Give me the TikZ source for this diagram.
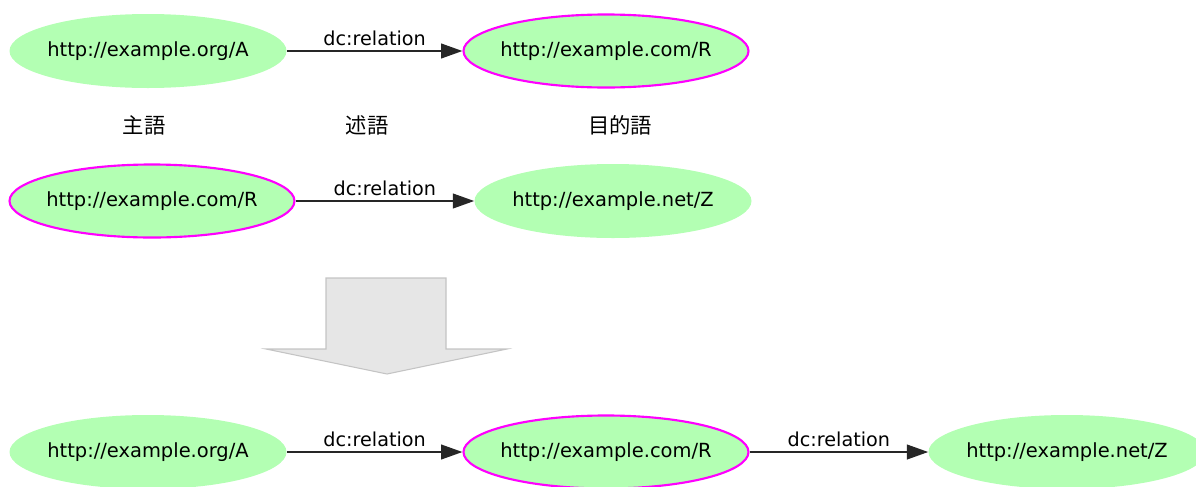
\documentclass[tikz,border=0pt]{standalone}
\usepackage{fontspec}
\setmainfont{DejaVu Sans}
\newfontfamily\cjk{Noto Sans CJK JP}
\usetikzlibrary{arrows.meta,shapes.geometric}
\definecolor{nodegreen}{HTML}{B3FFB3}
\definecolor{rmag}{HTML}{FF00FF}
\definecolor{bigfill}{HTML}{E6E6E6}
\definecolor{bigdraw}{HTML}{C4C4C4}
\tikzset{
  res/.style={ellipse, fill=nodegreen, inner xsep=-30pt, inner ysep=0pt, minimum width=207.75pt, minimum height=55.5pt, font=\fontsize{14.6pt}{16pt}\selectfont},
  resr/.style={res, draw=rmag, line width=1.6pt, minimum width=213.75pt, minimum height=54.75pt},
  rel/.style={draw=black!85, line width=1.5pt, -{Triangle[length=16pt,width=11pt]}},
  rellabel/.style={midway, above, inner sep=3pt, font=\fontsize{14.4pt}{16pt}\selectfont},
  role/.style={font=\cjk\fontsize{16pt}{18pt}\selectfont, inner sep=0pt},
}
\begin{document}
\begin{tikzpicture}[x=0.75pt, y=-0.75pt]
\useasboundingbox (0,0) rectangle (1196,486);
% row 1
\node[res]  (a1) at (148,51)  {http://example.org/A};
\node[resr] (r1) at (606,51)  {http://example.com/R};
\draw[rel] (a1) -- (r1) node[rellabel] (l1) {dc:relation};
% roles
\node[role] (subj) at (144,125) {主語};
\node[role] (pred) at (367,125) {述語};
\node[role] (obj)  at (620,125) {目的語};
% row 2
\node[resr] (r2) at (152,201) {http://example.com/R};
\node[res]  (z2) at (613,201) {http://example.net/Z};
\draw[rel] (r2) -- (z2) node[rellabel] (l2) {dc:relation};
% big arrow
\draw[fill=bigfill, draw=bigdraw, line width=0.8pt, line join=miter]
  (326,278) -- (446,278) -- (446,349) -- (507,349) -- (387,374) -- (266,349) -- (326,349) -- cycle;
% row 3
\node[res]  (a3) at (148,452)  {http://example.org/A};
\node[resr] (r3) at (606,452)  {http://example.com/R};
\node[res]  (z3) at (1067,452) {http://example.net/Z};
\draw[rel] (a3) -- (r3) node[rellabel] (l3) {dc:relation};
\draw[rel] (r3) -- (z3) node[rellabel] (l4) {dc:relation};
\end{tikzpicture}
\end{document}
